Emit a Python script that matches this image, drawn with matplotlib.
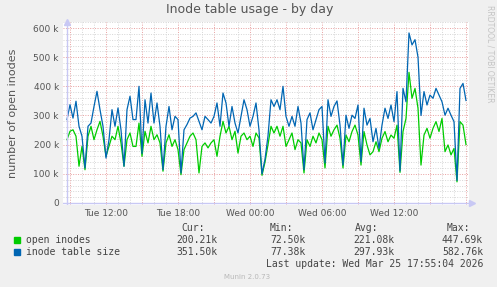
import numpy as np
import matplotlib
matplotlib.use("Agg")
import matplotlib.pyplot as plt
from matplotlib.ticker import MultipleLocator, FuncFormatter
from matplotlib.patches import Rectangle

# samples every 15 min, hours counted from Tue 00:00
start_hour = 8.75
step_hour = 0.25

# inode table size (k)
table_size = [
    286, 337, 291, 349, 263, 229, 120, 263, 274, 331, 383, 320, 263, 154, 217, 320, 263, 326, 251, 126,
    320, 366, 286, 286, 400, 170, 354, 274, 377, 274, 343, 263, 114, 263, 331, 251, 297, 286, 103, 251,
    269, 291, 297, 309, 280, 251, 297, 286, 274, 297, 343, 263, 377, 343, 263, 331, 274, 240, 297, 354,
    320, 263, 297, 343, 250, 100, 150, 230, 354, 331, 354, 320, 400, 297, 263, 297, 263, 331, 274, 114,
    286, 309, 251, 286, 320, 331, 137, 354, 297, 331, 350, 267, 130, 301, 256, 301, 290, 336, 142, 325,
    267, 290, 210, 256, 187, 267, 325, 290, 336, 279, 382, 110, 393, 347, 583, 542, 560, 500, 300, 382,
    336, 370, 359, 393, 370, 347, 301, 325, 301, 279, 77.4, 393, 410, 351.5,
]

# open inodes (k)
open_inodes = [
    217, 246, 251, 229, 126, 194, 114, 229, 263, 217, 251, 280, 229, 160, 194, 229, 217, 263, 206, 126,
    217, 240, 194, 194, 274, 160, 246, 206, 263, 217, 234, 206, 109, 206, 234, 194, 217, 183, 97, 183,
    206, 229, 240, 217, 103, 194, 206, 189, 206, 217, 160, 229, 280, 240, 263, 217, 246, 171, 229, 240,
    217, 229, 194, 240, 223, 95, 140, 200, 263, 240, 263, 229, 263, 194, 217, 240, 183, 217, 206, 103,
    217, 194, 229, 206, 240, 217, 120, 263, 229, 251, 267, 222, 120, 233, 210, 245, 267, 233, 130, 245,
    199, 165, 176, 210, 176, 222, 245, 210, 233, 222, 267, 105, 245, 290, 448, 359, 393, 325, 130, 233,
    256, 222, 256, 279, 245, 290, 176, 199, 165, 187, 72.5, 279, 267, 200.2,
]

legend_names = ["open inodes", "inode table size"]
legend_colors = ["#00cc00", "#0066b3"]
stats = [
    ["200.21k", "72.50k", "221.08k", "447.69k"],
    ["351.50k", "77.38k", "297.93k", "582.76k"],
]

hours = start_hour + step_hour * np.arange(len(table_size))
W, H = 497, 287

fig = plt.figure(figsize=(W / 100, H / 100), dpi=100)
fig.patch.set_facecolor("#f0f0f0")

# plot area in pixels: x 63..469, y 22..205
ax = fig.add_axes([63 / W, 1 - 205 / H, 406 / W, 183 / H])
ax.set_facecolor("white")
for s in ax.spines.values():
    s.set_visible(False)

ax.plot(hours, np.array(open_inodes) * 1000, color=legend_colors[0], lw=0.9)
ax.plot(hours, np.array(table_size) * 1000, color=legend_colors[1], lw=0.9)

px_y = 600000 / 175
ax.set_ylim(-2 * px_y, 600000 + 6 * px_y)
ax.set_xlim(start_hour - 4 / 12, start_hour + 402 / 12)

ax.yaxis.set_major_locator(MultipleLocator(100000))
ax.yaxis.set_minor_locator(MultipleLocator(20000))
ax.xaxis.set_major_locator(MultipleLocator(3))
ax.xaxis.set_minor_locator(MultipleLocator(1))

def fmt_y(v, _):
    if abs(v) < 1:
        return "0"
    return f"{v / 1000:.0f} k"

def fmt_x(v, _):
    h = int(round(v))
    # no label at the right edge
    if h % 6 != 0 or h > 40:
        return ""
    day = "Tue" if h < 24 else "Wed"
    return f"{day} {h % 24:02d}:00"

ax.yaxis.set_major_formatter(FuncFormatter(fmt_y))
ax.xaxis.set_major_formatter(FuncFormatter(fmt_x))
ax.tick_params(which="both", length=0, labelsize=6.5, colors="#555555")
ax.tick_params(axis="y", pad=3)
ax.tick_params(axis="x", pad=3)

ax.set_axisbelow(True)
ax.grid(which="minor", color="#d6d6d6", linestyle=(0, (1, 1.5)), lw=0.7)
ax.grid(which="major", color="#e8a0a0", linestyle=(0, (1, 1.5)), lw=0.7)

# rrdtool style axis arrows
ax.axvline(start_hour, color="#c8c8f4", lw=1)
ax.axhline(0, color="#c8c8f4", lw=1)
ax.plot([start_hour], [600000 + 6 * px_y], marker="^", color="#c8c8f4", ms=4, clip_on=False)
ax.plot([start_hour + 405 / 12], [0], marker=">", color="#c8c8f4", ms=4, clip_on=False)

ax.set_ylabel("number of open inodes", fontsize=8, color="#555555", labelpad=11)

fig.text(250 / W, 1 - 10 / H, "Inode table usage - by day", ha="center", va="center",
         fontsize=9, color="#555555")
fig.text(490 / W, 1 - 5 / H, "RRDTOOL / TOBI OETIKER", ha="center", va="top",
         rotation=270, fontsize=5.5, color="#c4c4c4")

# legend table
mono = "DejaVu Sans Mono"
for label, xc in zip(["Cur:", "Min:", "Avg:", "Max:"], [193, 281, 367, 458]):
    fig.text(xc / W, 1 - 228 / H, label, ha="center", va="center", fontsize=7,
             family=mono, color="#444444")
value_right = [217, 306, 394, 483]
for row, (name, col) in enumerate(zip(legend_names, legend_colors)):
    yy = 240 + row * 12
    fig.patches.append(Rectangle((14 / W, 1 - (yy + 3) / H), 6 / W, 6 / H,
                                 transform=fig.transFigure, color=col))
    fig.text(26 / W, 1 - yy / H, name, ha="left", va="center", fontsize=7,
             family=mono, color="#444444")
    for val, xr in zip(stats[row], value_right):
        fig.text(xr / W, 1 - yy / H, val, ha="right", va="center", fontsize=7,
                 family=mono, color="#444444")

fig.text(483 / W, 1 - 264 / H, "Last update: Wed Mar 25 17:55:04 2026", ha="right",
         va="center", fontsize=7, family=mono, color="#444444")
fig.text(247 / W, 1 - 277 / H, "Munin 2.0.73", ha="center", va="center",
         fontsize=5, color="#b8b8b8")

fig.savefig("out.png", dpi=100, facecolor=fig.get_facecolor())
